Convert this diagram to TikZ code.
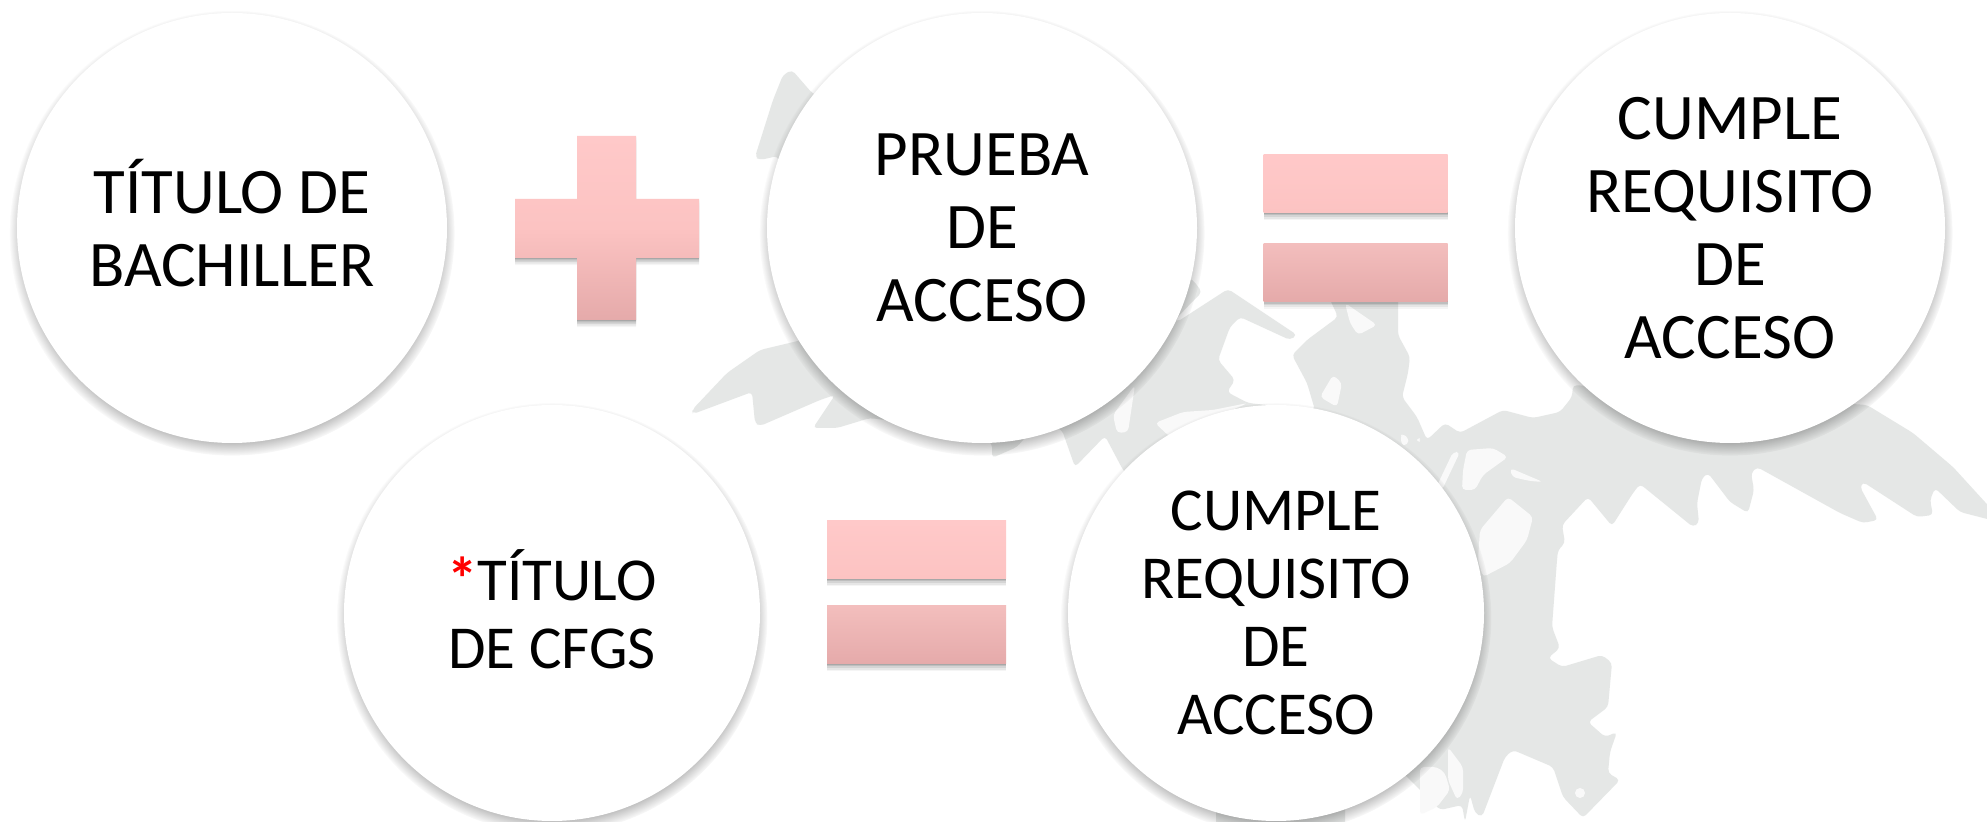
\documentclass[tikz,border=0pt]{standalone}
\usepackage{fontspec}
\setmainfont{Carlito}
\usetikzlibrary{shadows}
\definecolor{silueta}{HTML}{E5E7E6}
\definecolor{huecoc}{HTML}{F9F9F9}
\definecolor{rosaA}{HTML}{FFC9C9}
\definecolor{rosaB}{HTML}{FCC3C2}
\definecolor{rosaC}{HTML}{F3BEBD}
\definecolor{rosaD}{HTML}{E5AAAA}
\tikzset{
  sombrabarra/.style={
    drop shadow={shadow xshift=0pt, shadow yshift=-.5pt, opacity=.12, fill=black},
    drop shadow={shadow xshift=0pt, shadow yshift=-1.2pt, opacity=.1, fill=black},
    drop shadow={shadow xshift=0pt, shadow yshift=-2pt, opacity=.08, fill=black},
    drop shadow={shadow xshift=0pt, shadow yshift=-2.8pt, opacity=.06, fill=black},
    drop shadow={shadow xshift=0pt, shadow yshift=-3.6pt, opacity=.04, fill=black}},
  circulo/.style={circle, fill=white, minimum size=#1, inner sep=0pt, align=center,
    circular drop shadow={shadow scale=1.035, shadow xshift=0pt, shadow yshift=-2.5pt, fill=black, opacity=.6}},
  grande/.style={circulo=215pt, font=\fontsize{32.5}{36.4}\selectfont},
  chico/.style={circulo=208pt, font=\fontsize{30.5}{34}\selectfont},
  barra/.style={sombrabarra, inner sep=0pt, minimum width=#1, minimum height=29pt},
  barrasup/.style={barra=#1, top color=rosaA, bottom color=rosaB},
  barrainf/.style={barra=#1, top color=rosaC, bottom color=rosaD},
  silu/.style={fill=silueta, rounded corners=2pt},
  hueco/.style={fill=huecoc, rounded corners=2pt}
}
\begin{document}
\begin{tikzpicture}[x=0.5pt, y=-0.5pt]
  \clip (0,0) rectangle (1987,822);
  \fill[white] (0,0) rectangle (1987,822);

  % silueta de fondo
  \path[silu] (812,93)--(792,70)--(783,75)--(773,100)--(755,157)--(760,160)--(778,156)--(802,340)--(760,350)--(727,373)--(692,410)--(693,414)--(752,392)--(755,423)--(760,426)--(820,400)--(835,395)--(813,428)--(837,428)--(870,418)--(960,430)--(992,443)--(992,458)--(1017,447)--(1040,420)--(1062,430)--(1075,467)--(1105,436)--(1123,470)--(1330,700)--(1400,770)--(1440,810)--(1462,805)--(1465,822)--(1470,795)--(1475,813)--(1482,817)--(1505,757)--(1513,750)--(1553,767)--(1563,797)--(1583,818)--(1620,780)--(1608,773)--(1610,752)--(1617,732)--(1605,737)--(1588,722)--(1608,707)--(1612,663)--(1602,655)--(1562,667)--(1548,658)--(1560,648)--(1552,627)--(1557,560)--(1558,550)--(1565,543)--(1562,525)--(1588,497)--(1612,526)--(1633,493)--(1640,484)--(1693,527)--(1699,523)--(1697,503)--(1702,478)--(1708,473)--(1730,502)--(1748,513)--(1754,490)--(1751,473)--(1757,467)--(1840,513)--(1863,523)--(1878,520)--(1860,487)--(1863,482)--(1917,517)--(1933,515)--(1930,500)--(1935,488)--(1960,512)--(1995,521)--(1995,513)--(1953,467)--(1913,433)--(1867,405)--(1573,385)--(1572,397)--(1560,412)--(1533,418)--(1503,410)--(1460,433)--(1445,423)--(1427,440)--(1417,417)--(1402,397)--(1408,373)--(1410,357)--(1398,335)--(1398,295)--(1328,295)--(1338,317)--(1307,340)--(1292,355)--(1307,383)--(1315,410)--(1248,403)--(1227,392)--(1235,380)--(1218,360)--(1230,327)--(1240,317)--(1290,340)--(1297,335)--(1228,289)--(1177,322)--(1175,320)--(1192,302)--(1202,292)--(1193,280)--(1000,200)--cycle;
  \path[silu] (1216,805)--(1345,805)--(1345,825)--(1216,825)--cycle;

  % huecos de la silueta
  \path[hueco] (1155,423)--(1183,412)--(1213,410)--(1248,403)--(1170,437)--cycle;
  \path[hueco] (1135,385)--(1128,432)--(1117,433)--(1113,415)--cycle;
  \path[hueco] (1333,375)--(1342,383)--(1337,407)--(1320,397)--cycle;
  \path[hueco] (1345,303)--(1377,325)--(1358,335)--(1350,323)--cycle;
  \path[hueco] (1467,450)--(1493,448)--(1508,457)--(1483,475)--(1475,490)--(1462,490)--(1463,470)--cycle;
  \path[hueco] (1510,468)--(1543,482)--(1530,481)--(1512,477)--cycle;
  \path[hueco] (1453,452)--(1460,452)--(1442,490)--(1435,490)--cycle;
  \path[hueco] (1400,437)--(1403,433)--(1410,441)--(1403,447)--cycle;
  \path[hueco] (1417,437)--(1422,440)--(1417,443)--cycle;
  \path[hueco] (1508,497)--(1533,517)--(1527,540)--(1510,563)--(1483,577)--(1478,560)--(1480,530)--cycle;
  \path[hueco] (1420,767)--(1437,767)--(1445,773)--(1450,790)--(1437,807)--(1420,815)--cycle;
  \path[hueco] (1448,747)--(1463,767)--(1463,793)--(1457,800)--(1448,780)--cycle;
  \fill[huecoc] (1580,793) circle (2.5pt);

  % fila de arriba
  \node[grande] (cBach) at (232,228) {\raisebox{5pt}{TÍTULO DE}\\\raisebox{5pt}{BACHILLER}};
  \path[sombrabarra, top color=rosaA, bottom color=rosaD, middle color=rosaB] (577,136)--(636,136)--(636,199)--(699,199)--(699,258)--(636,258)--(636,320)--(577,320)--(577,258)--(515,258)--(515,199)--(577,199)--cycle;
  \node[grande] (cPrueba) at (982,228) {PRUEBA\\DE\\ACCESO};
  \node[barrasup=92pt] (eqA) at (1355.5,184) {};
  \node[barrainf=92pt] (eqB) at (1355.5,272.5) {};
  \node[grande] (cReqA) at (1730,228) {CUMPLE\\REQUISITO\\DE\\ACCESO};

  % fila de abajo
  \node[chico] (cCfgs) at (552,613) {\raisebox{4.3pt}{\textcolor{red}{\textbf{*}}TÍTULO}\\\raisebox{4.3pt}{DE CFGS}};
  \node[barrasup=89.5pt] (eqC) at (916.5,550) {};
  \node[barrainf=89.5pt] (eqD) at (916.5,635) {};
  \node[chico] (cReqB) at (1276,613) {CUMPLE\\REQUISITO\\DE\\ACCESO};
\end{tikzpicture}
\end{document}
